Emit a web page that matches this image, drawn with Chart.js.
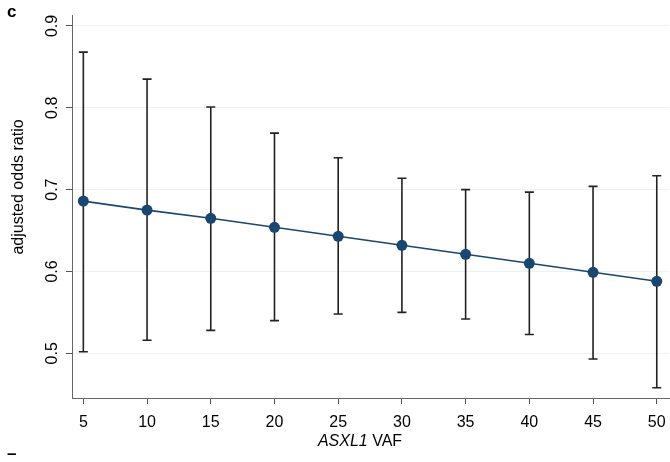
<!DOCTYPE html>
<html>
<head>
<meta charset="utf-8" />
<script src="https://cdn.jsdelivr.net/npm/chart.js@4/dist/chart.umd.min.js"></script>
<style>
  html, body { margin: 0; padding: 0; background: #fff; }
  canvas { display: block; }
</style>
</head>
<body>
<canvas id="orChart" width="670" height="462"></canvas>
<script>
const vaf = [5, 10, 15, 20, 25, 30, 35, 40, 45, 50];
const oddsRatio = [0.686, 0.675, 0.665, 0.654, 0.643, 0.632, 0.621, 0.610, 0.599, 0.588];
const ciLow = [0.502, 0.516, 0.528, 0.540, 0.548, 0.550, 0.542, 0.523, 0.493, 0.458];
const ciHigh = [0.868, 0.835, 0.801, 0.769, 0.739, 0.714, 0.700, 0.697, 0.704, 0.717];
const xTicks = [5, 10, 15, 20, 25, 30, 35, 40, 45, 50];
const yTicks = [0.5, 0.6, 0.7, 0.8, 0.9];

const FONT = "'Liberation Sans', Arial, sans-serif";
const NAVY = "#1a476f";

// capped vertical bars for the confidence intervals
const errorBars = {
  id: "errorBars",
  beforeDatasetsDraw(chart) {
    const { ctx, scales } = chart;
    const x = scales.x;
    const y = scales.y;
    ctx.save();
    ctx.strokeStyle = "#222";
    ctx.lineWidth = 1.6;
    vaf.forEach((v, i) => {
      const px = x.getPixelForValue(v);
      const top = y.getPixelForValue(ciHigh[i]);
      const bot = y.getPixelForValue(ciLow[i]);
      ctx.beginPath();
      ctx.moveTo(px, top);
      ctx.lineTo(px, bot);
      ctx.moveTo(px - 4.5, top);
      ctx.lineTo(px + 4.5, top);
      ctx.moveTo(px - 4.5, bot);
      ctx.lineTo(px + 4.5, bot);
      ctx.stroke();
    });
    ctx.restore();
  },
};

// tick labels (y ones rotated), axis titles and panel letter
const labels = {
  id: "labels",
  afterDraw(chart) {
    const { ctx, scales } = chart;
    const x = scales.x;
    const y = scales.y;
    ctx.save();
    ctx.fillStyle = "#000";
    ctx.font = `16px ${FONT}`;
    ctx.textAlign = "center";
    ctx.textBaseline = "middle";
    yTicks.forEach((t) => {
      ctx.save();
      ctx.translate(53, y.getPixelForValue(t));
      ctx.rotate(-Math.PI / 2);
      ctx.fillText(t.toFixed(1), 0, 0);
      ctx.restore();
    });
    xTicks.forEach((t) => {
      ctx.fillText(String(t), x.getPixelForValue(t), 423);
    });

    ctx.save();
    ctx.translate(19, 187);
    ctx.rotate(-Math.PI / 2);
    ctx.fillText("adjusted odds ratio", 0, 0);
    ctx.restore();

    const gene = "ASXL1";
    const rest = " VAF";
    ctx.font = `italic 16px ${FONT}`;
    const w1 = ctx.measureText(gene).width;
    ctx.font = `16px ${FONT}`;
    const w2 = ctx.measureText(rest).width;
    const startX = 360 - (w1 + w2) / 2;
    ctx.textAlign = "left";
    ctx.font = `italic 16px ${FONT}`;
    ctx.fillText(gene, startX, 442);
    ctx.font = `16px ${FONT}`;
    ctx.fillText(rest, startX + w1, 442);

    ctx.font = `bold 17px ${FONT}`;
    ctx.fillText("c", 7, 12);
    ctx.fillText("–", 7, 454);
    ctx.restore();
  },
};

new Chart(document.getElementById("orChart"), {
  type: "line",
  data: {
    datasets: [
      {
        data: vaf.map((v, i) => ({ x: v, y: oddsRatio[i] })),
        borderColor: NAVY,
        borderWidth: 1.6,
        backgroundColor: NAVY,
        pointBackgroundColor: NAVY,
        pointBorderColor: NAVY,
        pointRadius: 5.5,
        pointBorderWidth: 0,
        tension: 0,
      },
    ],
  },
  options: {
    responsive: false,
    devicePixelRatio: 1,
    animation: false,
    layout: {
      autoPadding: false,
      padding: { top: 15, right: 1, left: 0, bottom: 0 },
    },
    plugins: {
      legend: { display: false },
      tooltip: { enabled: false },
    },
    scales: {
      x: {
        type: "linear",
        min: 4.11,
        max: 50.96,
        afterBuildTicks: (scale) => {
          scale.ticks = xTicks.map((v) => ({ value: v }));
        },
        afterFit: (scale) => {
          scale.height = 64;
        },
        grid: {
          drawOnChartArea: false,
          drawTicks: true,
          tickLength: 6,
          tickColor: "#555",
        },
        border: { display: true, color: "#666", width: 1 },
        ticks: { display: false },
      },
      y: {
        type: "linear",
        min: 0.4454,
        max: 0.9134,
        afterBuildTicks: (scale) => {
          scale.ticks = yTicks.map((v) => ({ value: v }));
        },
        afterFit: (scale) => {
          scale.width = 72;
        },
        grid: {
          color: "#eaf2f3",
          lineWidth: 1,
          drawTicks: true,
          tickLength: 6,
          tickColor: "#555",
        },
        border: { display: true, color: "#666", width: 1 },
        ticks: { display: false },
      },
    },
  },
  plugins: [errorBars, labels],
});
</script>
</body>
</html>
